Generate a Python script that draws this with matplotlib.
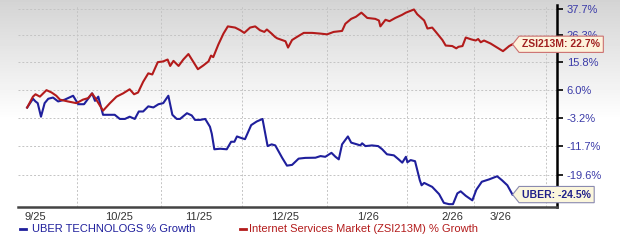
import numpy as np
import matplotlib.pyplot as plt
from matplotlib.lines import Line2D
from matplotlib.path import Path

plt.rcParams['font.family'] = ['Liberation Sans', 'DejaVu Sans']

# Données (x = séance de bourse, y = % de variation)
zsi_x = [0, 1.6, 2.3, 3.5, 5.3, 6.7, 8.0, 9.0, 11.2, 13.5, 15.3, 16.7, 17.8, 18.7,
         20.8, 22.7, 24.5, 26.3, 28.1, 29.3, 30.4, 31.8, 33.2, 34.3, 35.8, 37.3,
         38.5, 39.2, 40.1, 41.5, 42.8, 44.2, 45.6, 46.8, 48.3, 49.7, 50.4, 51.0,
         52.4, 53.8, 55.0, 57.0, 58.4, 59.5, 61.1, 62.5, 63.8, 65.0, 65.7, 67.0,
         67.9, 68.5, 70.8, 71.5, 72.6, 74.0, 75.8, 78.1, 80.4, 82.2, 84.0, 86.3,
         87.2, 88.8, 90.1, 91.6, 93.2, 95.4, 96.4, 96.8, 98.2, 99.3, 100.9, 102.7,
         103.8, 106.0, 106.9, 108.8, 109.7, 111.0, 112.0, 113.8, 114.7, 116.5,
         117.6, 118.2, 119.3, 120.2, 121.6, 122.9, 123.6, 124.3, 125.2, 127.0,
         128.8, 130.4, 132.1, 133.0]
zsi_y = [0.0, 3.6, 4.4, 3.6, 5.8, 5.0, 3.9, 2.6, 2.0, 1.45, 2.6, 3.1, 4.7, 3.1,
         -1.0, 1.45, 3.6, 4.7, 6.1, 4.4, 5.0, 8.7, 11.7, 11.3, 15.8, 16.1,
         16.8, 14.4, 16.3, 14.4, 16.8, 18.9, 15.8, 13.2, 14.6, 16.1, 18.3, 17.7,
         22.6, 27.0, 30.0, 29.5, 28.4, 27.3, 29.5, 30.0, 28.4, 27.7, 28.7, 27.0,
         25.7, 25.1, 23.9, 21.4, 24.4, 25.7, 27.3, 27.3, 27.0, 26.7, 27.7, 28.1,
         31.1, 33.2, 34.1, 35.9, 33.6, 33.2, 32.5, 30.0, 32.8, 32.2, 33.6, 34.9,
         35.9, 37.3, 35.2, 32.5, 29.1, 29.5, 27.7, 24.4, 22.2, 22.0,
         21.1, 21.7, 22.0, 25.4, 24.7, 24.2, 24.8, 23.5, 24.2, 23.0,
         21.4, 20.0, 22.0, 22.7]

uber_x = [0, 1.6, 2.3, 2.9, 3.8, 4.8, 5.8, 7.1, 8.5, 10.3, 12.6, 14.0, 15.6, 17.8,
          18.6, 19.5, 20.8, 22.2, 24.0, 25.4, 26.8, 28.1, 29.5, 30.6, 31.8, 33.2,
          34.6, 36.0, 37.3, 38.7, 39.8, 41.0, 41.9, 43.8, 45.1, 46.0, 47.4, 48.8,
          50.1, 50.6, 51.3, 52.9, 54.7, 55.9, 56.8, 57.5, 58.8, 59.7, 61.4, 62.9,
          64.5, 65.9, 67.0, 68.0, 69.9, 71.2, 72.6, 74.4, 76.2, 79.0, 80.4, 81.7,
          83.4, 84.5, 85.4, 86.3, 87.9, 88.8, 90.4, 91.3, 91.8, 92.7, 94.5, 96.2,
          97.3, 98.6, 100.5, 101.8, 102.8, 103.8, 104.2, 105.1, 106.3, 107.6,
          108.1, 108.8, 111.0, 112.9, 114.2, 115.6, 116.7, 117.9, 118.8, 120.2,
          122.0, 123.1, 124.6, 126.6, 128.8, 130.1, 131.6, 133.0]
uber_y = [0.0, 2.9, 2.0, 1.45, -2.9, 1.45, 2.9, 3.3, 2.0, 2.6, 3.9, 1.1, 1.1, 4.7,
          2.2, 3.6, -2.3, -2.3, -2.3, -3.6, -3.6, -2.9, -3.6, -1.25, -1.25, 0.4,
          0.05, 1.1, 1.45, 3.9, -2.3, -3.6, -3.6, -1.8, -2.5, -3.9, -3.9, -3.6,
          -6.0, -8.1, -12.6, -12.45, -12.6, -10.45, -10.45, -8.9, -9.4, -9.7, -5.5, -4.4,
          -3.6, -11.7, -11.2, -11.5, -15.0, -17.1, -16.9, -15.2, -15.0, -14.95, -14.5, -14.7,
          -13.6, -14.7, -15.4, -11.2, -8.9, -10.7, -11.2, -11.5, -10.9, -11.7, -11.5, -11.7,
          -12.6, -14.0, -14.3, -15.4, -16.3, -14.7, -16.2, -15.6, -15.9, -20.9,
          -22.2, -21.6, -22.6, -24.4, -26.5, -26.8, -26.8, -24.2, -23.7, -24.8,
          -25.9, -23.3, -21.3, -20.7, -19.9, -20.9, -22.2, -24.5]

y_ticks = [-19.6, -11.7, -3.2, 6.0, 15.8, 26.3, 37.7]
x_labels = ['9/25', '10/25', '11/25', '12/25', '1/26', '2/26', '3/26']
x_label_pos = [2.2, 25.2, 47.1, 70.7, 93.4, 116.4, 129.6]
x_grid_pos = [13.7, 36.7, 58.9, 82.2, 104.1, 122.5, 142.2]

blue = '#1f1f9c'
red = '#b31b1b'


def fwd(v):
    return np.log10(1 + np.asarray(v) / 100)


def inv(u):
    return (10 ** np.asarray(u) - 1) * 100


def tag_box(x0, y0, width, height, mutation_size):
    pad = mutation_size * 0.3
    x0, y0 = x0 - pad, y0 - pad
    x1, y1 = x0 + width + 2 * pad, y0 + height + 2 * pad
    tip = (y1 - y0) * 0.4
    return Path([(x0, y0), (x1, y0), (x1, y1), (x0, y1),
                 (x0 - tip, (y0 + y1) / 2), (x0, y0), (x0, y0)], closed=True)


fig = plt.figure(figsize=(6.2, 2.4), dpi=100)

# fond dégradé gris -> blanc
bg = fig.add_axes([0, 0, 1, 1], zorder=0)
rows = np.linspace(0, 1, 240)
shade = np.clip(0.83 + 0.17 * rows / 0.5, 0, 1)
bg.imshow(np.repeat(shade[:, None], 2, axis=1), cmap='gray', vmin=0, vmax=1,
          aspect='auto', extent=[0, 1, 0, 1])
bg.axis('off')

ax = fig.add_axes([18 / 620, 1 - 206.7 / 240, (557 - 18) / 620, (206.7 - 5) / 240], zorder=1)
ax.set_facecolor('none')
ax.set_yscale('function', functions=(fwd, inv))

ax.plot(uber_x, uber_y, color=blue, lw=1.5, zorder=3)
ax.plot(zsi_x, zsi_y, color=red, lw=1.5, zorder=3)

ax.set_xlim(-2.5, 145.2)
ax.set_ylim(-27.4, 39.3)

ax.yaxis.tick_right()
ax.set_yticks(y_ticks)
ax.set_yticklabels([f'{t:.1f}%' for t in y_ticks])
ax.yaxis.set_minor_locator(plt.NullLocator())
ax.tick_params(axis='y', direction='out', length=4, width=1.2, color='black',
               labelsize=8, labelcolor='#3a3aa8', pad=3)

ax.set_xticks(x_label_pos)
ax.set_xticklabels(x_labels)
ax.set_xticks(x_grid_pos, minor=True)
ax.tick_params(axis='x', which='both', length=0, labelsize=8, labelcolor='#333333', pad=4)

ax.grid(axis='y', which='major', color='#c4c4c4', lw=0.7, ls=(0, (2, 2)), zorder=1)
ax.grid(axis='x', which='minor', color='#c4c4c4', lw=0.7, ls=(0, (2, 2)), zorder=1)

for side in ['left', 'top']:
    ax.spines[side].set_visible(False)
ax.spines['right'].set_linewidth(1.8)
ax.spines['right'].set_color('black')
ax.spines['bottom'].set_linewidth(1.8)
ax.spines['bottom'].set_color('#444444')

ax.annotate('ZSI213M: 22.7%', xy=(zsi_x[-1], zsi_y[-1]), xytext=(7, 0),
            textcoords='offset points', ha='left', va='center', fontsize=7.5,
            fontweight='bold', color='#a02020', annotation_clip=False, zorder=5,
            bbox=dict(boxstyle=tag_box, fc='#fdf3dc', ec='#cc7070', lw=0.8))
ax.annotate('UBER: -24.5%', xy=(uber_x[-1], uber_y[-1]), xytext=(7, 0),
            textcoords='offset points', ha='left', va='center', fontsize=7.5,
            fontweight='bold', color='#20208a', annotation_clip=False, zorder=5,
            bbox=dict(boxstyle=tag_box, fc='#fbf6dc', ec='#8a8ab0', lw=0.8))

# légende en bas
ly = 1 - 229 / 240
fig.add_artist(Line2D([20 / 620, 26 / 620], [ly, ly], color=blue, lw=2))
fig.text(32 / 620, ly, 'UBER TECHNOLOGS % Growth', color=blue, fontsize=8, va='center')
fig.add_artist(Line2D([240 / 620, 246 / 620], [ly, ly], color=red, lw=2))
fig.text(249 / 620, ly, 'Internet Services Market (ZSI213M) % Growth', color=red,
         fontsize=8, va='center')

fig.savefig('out.png', dpi=100)
